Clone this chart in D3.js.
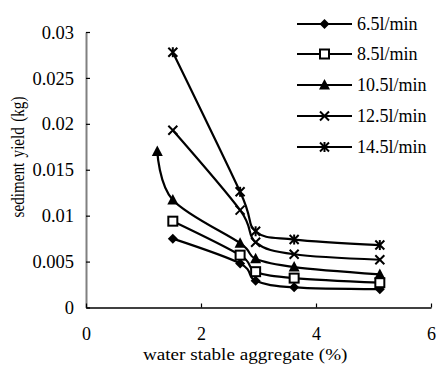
<!DOCTYPE html>
<html>
<head>
<meta charset="utf-8">
<script src="https://cdn.jsdelivr.net/npm/d3@7"></script>
<style>
  html, body { margin: 0; padding: 0; background: #fff; }
  svg text { font-family: "Liberation Serif", "Times New Roman", Times, "DejaVu Serif", serif !important; }
</style>
</head>
<body>
<svg id="chart" width="439" height="368"></svg>
<script>
// Water stable aggregate (%) at each sampling site
const aggregate = [1.51, 2.68, 2.95, 3.62, 5.11];
const aggregate105 = [1.24, 1.51, 2.68, 2.95, 3.62, 5.11];

// Sediment yield (kg) per flow rate
const flowLabels = ["6.5l/min", "8.5l/min", "10.5l/min", "12.5l/min", "14.5l/min"];
const yield65  = [0.0075, 0.0048, 0.0029, 0.0022, 0.0020];
const yield85  = [0.0094, 0.0057, 0.0039, 0.0032, 0.0027];
const yield105 = [0.0170, 0.0117, 0.0070, 0.0053, 0.0044, 0.0036];
const yield125 = [0.0193, 0.0106, 0.0071, 0.0058, 0.0052];
const yield145 = [0.0278, 0.0126, 0.0083, 0.0074, 0.0068];

const xTicks = [0, 2, 4, 6];
const yTicks = [0, 0.005, 0.01, 0.015, 0.02, 0.025, 0.03];
const yTickLabels = ["0", "0.005", "0.01", "0.015", "0.02", "0.025", "0.03"];

const series = [
  { name: flowLabels[0], xs: aggregate,    ys: yield65,  marker: "diamond" },
  { name: flowLabels[1], xs: aggregate,    ys: yield85,  marker: "square" },
  { name: flowLabels[2], xs: aggregate105, ys: yield105, marker: "triangle" },
  { name: flowLabels[3], xs: aggregate,    ys: yield125, marker: "cross" },
  { name: flowLabels[4], xs: aggregate,    ys: yield145, marker: "star" }
];

const svg = d3.select("#chart");
const x = d3.scaleLinear().domain([0, 6]).range([86, 431]);
const y = d3.scaleLinear().domain([0, 0.03]).range([307.5, 32]);

// Axes: grey vertical axis, black horizontal axis, ticks pointing inwards
const yAxis = svg.append("g").attr("transform", `translate(${x(0)},0)`)
  .call(d3.axisLeft(y).tickValues(yTicks).tickSize(-4).tickSizeOuter(0)
    .tickFormat((d, i) => yTickLabels[i]));
yAxis.attr("font-family", null).attr("font-size", null);
yAxis.select(".domain").attr("stroke", "#808080").attr("stroke-width", 2);
yAxis.selectAll(".tick line").attr("stroke", "#000").attr("stroke-width", 1.2);
yAxis.selectAll(".tick text").attr("x", -12).attr("dy", "0.33em")
  .attr("font-size", 18.5).attr("fill", "#000");

const xAxis = svg.append("g").attr("transform", `translate(0,${y(0)})`)
  .call(d3.axisBottom(x).tickValues(xTicks).tickSize(-4).tickSizeOuter(0)
    .tickFormat(d3.format("d")));
xAxis.attr("font-family", null).attr("font-size", null);
xAxis.select(".domain").attr("stroke", "#000").attr("stroke-width", 1.6);
xAxis.selectAll(".tick line").attr("stroke", "#000").attr("stroke-width", 1.2);
xAxis.selectAll(".tick text").attr("y", 32.5).attr("dy", null)
  .attr("font-size", 18).attr("fill", "#000");

// Axis titles (the typeface is set slightly wide / narrow along its run)
svg.append("text")
  .attr("transform", "translate(143,359.5) scale(1.16,1)")
  .attr("font-size", 16.5)
  .text("water stable aggregate (%)");
svg.append("text")
  .attr("transform", "translate(24,157) rotate(-90) scale(0.84,1)")
  .attr("text-anchor", "middle").attr("font-size", 18)
  .attr("word-spacing", 2)
  .text("sediment yield (kg)");

// Marker shapes
function drawMarker(g, type, cx, cy) {
  const s = 5;
  if (type === "diamond") {
    g.append("path").attr("d", `M${cx},${cy - s}L${cx + s},${cy}L${cx},${cy + s}L${cx - s},${cy}Z`)
      .attr("fill", "#000");
  } else if (type === "square") {
    g.append("rect").attr("x", cx - 4.5).attr("y", cy - 4.5).attr("width", 9).attr("height", 9)
      .attr("fill", "#fff").attr("stroke", "#000").attr("stroke-width", 2);
  } else if (type === "triangle") {
    g.append("path").attr("d", `M${cx},${cy - 6}L${cx + 5.5},${cy + 4.5}L${cx - 5.5},${cy + 4.5}Z`)
      .attr("fill", "#000");
  } else if (type === "cross" || type === "star") {
    g.append("path").attr("d", `M${cx - 4.5},${cy - 4.5}L${cx + 4.5},${cy + 4.5}M${cx + 4.5},${cy - 4.5}L${cx - 4.5},${cy + 4.5}`)
      .attr("stroke", "#000").attr("stroke-width", 2).attr("fill", "none");
    if (type === "star") {
      g.append("path").attr("d", `M${cx},${cy - 5}L${cx},${cy + 5}`)
        .attr("stroke", "#000").attr("stroke-width", 2);
    }
  }
}

const line = d3.line().curve(d3.curveCatmullRom.alpha(0));

series.forEach(s => {
  const pts = s.xs.map((v, i) => [x(v), y(s.ys[i])]);
  svg.append("path").attr("d", line(pts))
    .attr("fill", "none").attr("stroke", "#000").attr("stroke-width", 2.2);
});
series.forEach(s => {
  const g = svg.append("g");
  s.xs.forEach((v, i) => drawMarker(g, s.marker, x(v), y(s.ys[i])));
});

// Legend
const legend = svg.append("g");
const legendY = [24, 54, 85, 116, 147];
series.forEach((s, i) => {
  const ly = legendY[i];
  legend.append("line").attr("x1", 297).attr("x2", 352).attr("y1", ly).attr("y2", ly)
    .attr("stroke", "#000").attr("stroke-width", 2.2);
  drawMarker(legend, s.marker, 324.5, ly);
  legend.append("text").attr("x", 357).attr("y", ly + 6)
    .attr("font-size", 18).text(s.name);
});
</script>
</body>
</html>
